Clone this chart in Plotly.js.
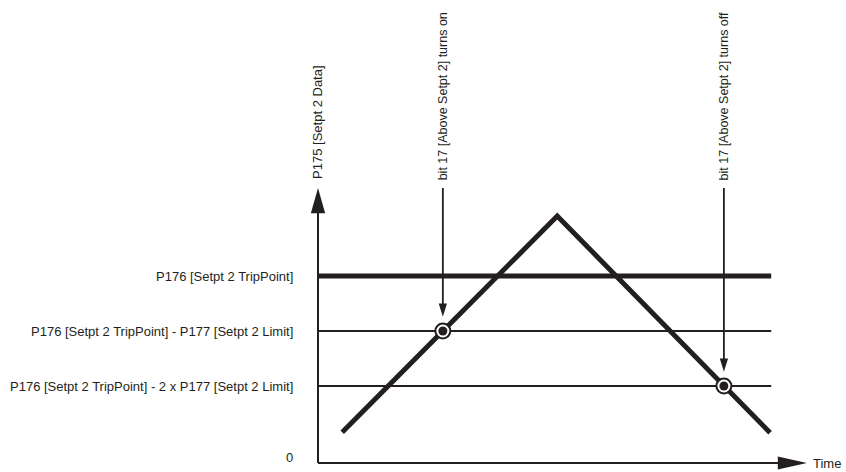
<!DOCTYPE html>
<html>
<head>
<meta charset="utf-8">
<script src="https://cdn.plot.ly/plotly-3.0.1.min.js"></script>
<style>
  html, body { margin: 0; padding: 0; background: #fff; }
  #chart { width: 846px; height: 472px; }
</style>
</head>
<body>
<div id="chart"></div>
<script>
// data (1 unit = one "Setpt 2 Limit")
const levelNames = [
  'P176 [Setpt 2 TripPoint]',
  'P176 [Setpt 2 TripPoint] - P177 [Setpt 2 Limit]',
  'P176 [Setpt 2 TripPoint] - 2 x P177 [Setpt 2 Limit]'
];
const levelValues = [3.4, 2.4, 1.4];
const levelWidths = [5, 2, 2];
const levelEnd = 8.24;

const rampX = [0.44, 4.35, 8.22];
const rampY = [0.56, 4.49, 0.55];

const eventX = [2.27, 7.38];
const eventY = [2.4, 1.4];
const eventText = ['bit 17 [Above Setpt 2] turns on', 'bit 17 [Above Setpt 2] turns off'];

const xAxisEnd = 8.89;
const yAxisEnd = 5.0;
const arrowTop = 5.0;

const ink = '#231f20';
const font = {family: '"Liberation Sans", Arial, sans-serif', size: 13, color: ink};
const rotFont = Object.assign({}, font, {size: 12.5});

function line(xs, ys, w) {
  return {x: xs, y: ys, mode: 'lines', line: {color: ink, width: w}, hoverinfo: 'skip'};
}

// filled arrow head, tip at (x,y), pointing dir ('up','down','right')
function head(x, y, dir, len, half) {
  let p;
  if (dir === 'up') p = [[x, y], [x - half, y - len], [x + half, y - len]];
  else if (dir === 'down') p = [[x, y], [x - half, y + len], [x + half, y + len]];
  else p = [[x, y], [x - len, y + half], [x - len, y - half]];
  return {
    type: 'path', xref: 'x', yref: 'y',
    path: 'M' + p.map(q => q[0] + ',' + q[1]).join('L') + 'Z',
    fillcolor: ink, line: {width: 0}
  };
}

const traces = [];
// axes
traces.push(line([0, xAxisEnd - 0.3], [0, 0], 2));
traces.push(line([0, 0], [0, yAxisEnd - 0.3], 2));
// levels
levelValues.forEach((v, i) => traces.push(line([0, levelEnd], [v, v], levelWidths[i])));
// event arrows
eventX.forEach((x, i) => traces.push(line([x, x], [arrowTop, eventY[i] + 0.4], 1.8)));
// ramp
traces.push(line(rampX, rampY, 5));
// event circles
traces.push({
  x: eventX, y: eventY, mode: 'markers', hoverinfo: 'skip',
  marker: {size: 15, color: '#fff', line: {color: ink, width: 2}}
});
traces.push({
  x: eventX, y: eventY, mode: 'markers', hoverinfo: 'skip',
  marker: {size: 9, color: ink, line: {width: 0}}
});

const shapes = [
  head(xAxisEnd, 0, 'right', 0.53, 0.12),
  head(0, yAxisEnd, 'up', 0.46, 0.13)
];
eventX.forEach((x, i) => shapes.push(head(x, eventY[i] + 0.26, 'down', 0.24, 0.075)));

const annotations = [];
levelValues.forEach((v, i) => annotations.push({
  x: -0.42, y: v, text: levelNames[i], showarrow: false,
  xanchor: 'right', yanchor: 'middle', font: font
}));
annotations.push({x: -0.42, y: 0.1, text: '0', showarrow: false, xanchor: 'right', yanchor: 'middle', font: font});
annotations.push({x: xAxisEnd + 0.07, y: 0, text: 'Time', showarrow: false, xanchor: 'left', yanchor: 'middle', font: font});
annotations.push({
  x: 0, y: yAxisEnd + 0.12, text: 'P175 [Setpt 2 Data]', showarrow: false,
  textangle: -90, xanchor: 'center', yanchor: 'bottom', font: font
});
eventX.forEach((x, i) => annotations.push({
  x: x, y: arrowTop + 0.1, text: eventText[i], showarrow: false,
  textangle: -90, xanchor: 'center', yanchor: 'bottom', font: rotFont
}));

const hidden = {showgrid: false, zeroline: false, showticklabels: false, showline: false, ticks: '', fixedrange: true};

const layout = {
  width: 846, height: 472,
  margin: {l: 0, r: 0, t: 0, b: 0},
  paper_bgcolor: '#fff', plot_bgcolor: '#fff',
  showlegend: false,
  xaxis: Object.assign({range: [-318 / 55, 528 / 55]}, hidden),
  yaxis: Object.assign({range: [-9 / 55, 463 / 55]}, hidden),
  shapes: shapes,
  annotations: annotations
};

Plotly.newPlot('chart', traces, layout, {displayModeBar: false, staticPlot: true});
</script>
</body>
</html>
